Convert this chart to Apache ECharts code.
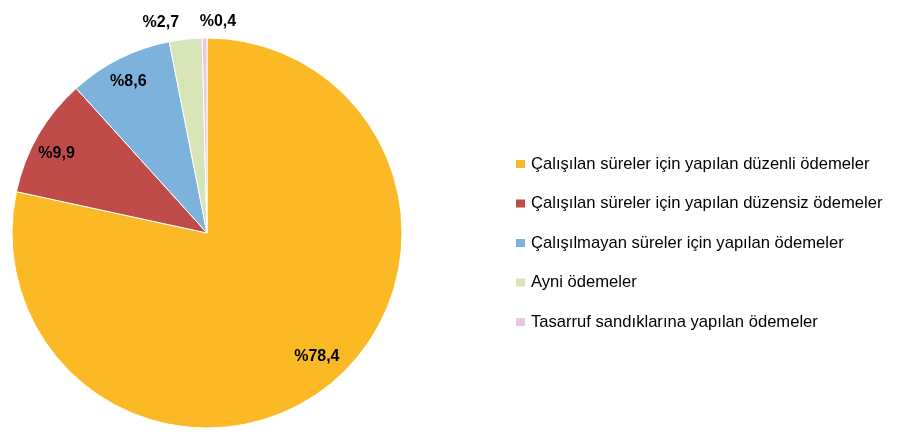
<!DOCTYPE html>
<html><head><meta charset="utf-8">
<script src="https://cdn.jsdelivr.net/npm/echarts@6/dist/echarts.min.js"></script>
<style>html,body{margin:0;padding:0;background:#fff}#c{width:902px;height:444px}</style>
</head><body><div id="c"></div>
<script>
const categories = [
  'Çalışılan süreler için yapılan düzenli ödemeler',
  'Çalışılan süreler için yapılan düzensiz ödemeler',
  'Çalışılmayan süreler için yapılan ödemeler',
  'Ayni ödemeler',
  'Tasarruf sandıklarına yapılan ödemeler'
];
const values = [78.4, 9.9, 8.6, 2.7, 0.4];
const labels = ['%78,4', '%9,9', '%8,6', '%2,7', '%0,4'];
const colors = ['#FBB926', '#BF4C49', '#7DB2DD', '#D6E4B8', '#E8C8E2'];

const FONT = 'Liberation Sans';
const center = [207, 233];

// small nudges of each label from its slice's label anchor (style only)
const nudges = [[2.5, -9.7], [-2.4, 6.5], [-2, 1], [-22, 8.7], [13.7, 9]];
function padFor(n) {
  const dx = n[0], dy = n[1];
  return [dy > 0 ? 2 * dy : 0, dx < 0 ? -2 * dx : 0, dy < 0 ? -2 * dy : 0, dx > 0 ? 2 * dx : 0];
}
function labelFor(i, show) {
  if (!show) return {show: false};
  return {
    show: true, position: 'inside',
    formatter: '{t|' + labels[i] + '}',
    rich: {t: {color: '#000', fontFamily: FONT, fontWeight: 'bold', fontSize: 16, padding: padFor(nudges[i])}}
  };
}

const mainData = categories.map((n, i) => ({name: n, value: values[i], itemStyle: {color: colors[i]}}));
const innerData = categories.map((n, i) => ({name: n, value: values[i], label: labelFor(i, i < 3)}));
const outerData = categories.map((n, i) => ({name: n, value: values[i], label: labelFor(i, i >= 3)}));

const carrier = {
  type: 'pie', center: center, startAngle: 90, clockwise: true,
  silent: true, labelLine: {show: false}, avoidLabelOverlap: false,
  itemStyle: {color: 'rgba(0,0,0,0)', borderWidth: 0}, z: 3
};

const chart = echarts.init(document.getElementById('c'), null, {renderer: 'canvas'});
chart.setOption({
  animation: false,
  legend: {
    orient: 'vertical', left: 514, top: 155, padding: 0,
    itemWidth: 11, itemHeight: 10, itemGap: 21.5, icon: 'rect',
    textStyle: {fontFamily: FONT, fontSize: 16.6, lineHeight: 18, color: '#000'},
    data: categories
  },
  series: [
    {
      type: 'pie', center: center, radius: [0, 195], startAngle: 90, clockwise: true,
      label: {show: false}, labelLine: {show: false}, silent: true,
      itemStyle: {borderColor: '#fff', borderWidth: 1},
      data: mainData
    },
    Object.assign({}, carrier, {radius: [0, 336], data: innerData}),
    Object.assign({}, carrier, {radius: [0, 434], data: outerData})
  ]
});
</script></body></html>
